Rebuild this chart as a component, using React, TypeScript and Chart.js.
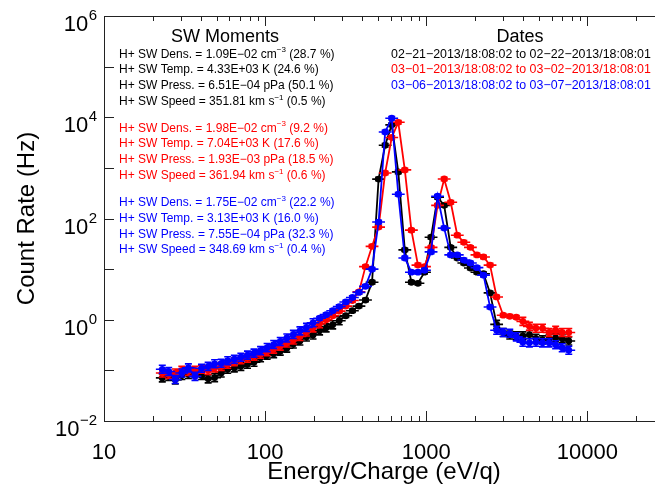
import React, { useEffect, useRef } from "react";
import { Chart, registerables } from "chart.js";
Chart.register(...registerables);

// Energy bins (eV/q)
const energies = [23.0, 25.2, 27.7, 30.4, 33.4, 36.7, 40.3, 44.3, 48.6, 53.4, 58.6, 64.4, 70.7, 77.7, 85.3, 93.7, 102.9, 113.0, 124.1, 136.3, 149.7, 164.4, 180.5, 198.3, 217.8, 239.2, 262.7, 288.4, 316.8, 347.9, 382.1, 419.6, 460.9, 506.1, 555.9, 610.5, 670.5, 736.2, 808.7, 888.1, 975.2, 1071, 1176, 1292, 1419, 1558, 1711, 1879, 2064, 2267, 2489, 2734, 3003, 3298, 3622, 3977, 4368, 4797, 5268, 5786, 6354, 6979, 7664];

// Count rates (Hz)
const countsFeb21 = [0.071, 0.076, 0.065, 0.079, 0.083, 0.089, 0.079, 0.068, 0.072, 0.089, 0.105, 0.112, 0.120, 0.132, 0.145, 0.178, 0.200, 0.214, 0.240, 0.275, 0.331, 0.380, 0.457, 0.501, 0.603, 0.692, 0.794, 0.955, 1.20, 1.51, 1.86, 2.45, 5.50, 600, 2800, 7080, 832, 24, 5.5, 5.25, 8.7, 42.7, 263, 182, 26.9, 16.6, 13.2, 10.5, 8.7, 8.1, 3.39, 0.81, 0.56, 0.50, 0.48, 0.48, 0.51, 0.43, 0.40, 0.42, 0.44, 0.42, 0.38];
const countsMar01 = [0.089, 0.083, 0.089, 0.100, 0.095, 0.100, 0.105, 0.100, 0.112, 0.120, 0.132, 0.148, 0.162, 0.174, 0.191, 0.209, 0.234, 0.263, 0.302, 0.347, 0.398, 0.468, 0.575, 0.692, 0.832, 1.00, 1.20, 1.48, 1.86, 2.40, 3.55, 11.2, 28.2, 67.6, 794, 3980, 7940, 912, 58.9, 12.0, 11.2, 26.9, 182, 603, 209, 46.8, 33.9, 26.9, 19.1, 17.4, 12.0, 2.82, 1.23, 1.17, 1.12, 0.93, 0.74, 0.68, 0.68, 0.56, 0.62, 0.56, 0.56];
const countsMar06 = [0.105, 0.095, 0.066, 0.089, 0.112, 0.076, 0.110, 0.120, 0.135, 0.138, 0.155, 0.166, 0.182, 0.200, 0.219, 0.245, 0.282, 0.324, 0.372, 0.437, 0.513, 0.603, 0.708, 0.871, 1.07, 1.26, 1.51, 1.82, 2.24, 2.75, 3.47, 4.57, 10.0, 85, 5130, 9550, 302, 16.6, 8.7, 8.7, 9.5, 21.9, 275, 64.6, 19.1, 19.1, 15.1, 13.2, 10.7, 7.6, 1.78, 0.62, 0.56, 0.54, 0.46, 0.36, 0.35, 0.36, 0.35, 0.35, 0.32, 0.28, 0.25];

const xTickValues = [10, 100, 1000, 10000];
const xTickLabels = ["10", "100", "1000", "10000"];
const yTickValues = [1e-2, 1, 1e2, 1e4, 1e6];
const yTickExponents = ["\u22122", "0", "2", "4", "6"];
const yDecades = [1e-2, 1e-1, 1, 1e1, 1e2, 1e3, 1e4, 1e5, 1e6];

const xTitle = "Energy/Charge (eV/q)";
const yTitle = "Count Rate (Hz)";
const momentsTitle = "SW Moments";
const datesTitle = "Dates";

const seriesColors = ["#000000", "#ff0000", "#0000ff"];
const momentsFeb21 = [
  "H+ SW Dens. = 1.09E\u221202 cm^{\u22123} (28.7 %)",
  "H+ SW Temp. = 4.33E+03 K (24.6 %)",
  "H+ SW Press. = 6.51E\u221204 pPa (50.1 %)",
  "H+ SW Speed = 351.81 km s^{\u22121} (0.5 %)",
];
const momentsMar01 = [
  "H+ SW Dens. = 1.98E\u221202 cm^{\u22123} (9.2 %)",
  "H+ SW Temp. = 7.04E+03 K (17.6 %)",
  "H+ SW Press. = 1.93E\u221203 pPa (18.5 %)",
  "H+ SW Speed = 361.94 km s^{\u22121} (0.6 %)",
];
const momentsMar06 = [
  "H+ SW Dens. = 1.75E\u221202 cm^{\u22123} (22.2 %)",
  "H+ SW Temp. = 3.13E+03 K (16.0 %)",
  "H+ SW Press. = 7.55E\u221204 pPa (32.3 %)",
  "H+ SW Speed = 348.69 km s^{\u22121} (0.4 %)",
];
const dateRanges = [
  "02\u221221\u22122013/18:08:02 to 02\u221222\u22122013/18:08:01",
  "03\u221201\u22122013/18:08:02 to 03\u221202\u22122013/18:08:01",
  "03\u221206\u22122013/18:08:02 to 03\u221207\u22122013/18:08:01",
];

const FONT = "'Liberation Sans', Arial, Helvetica, sans-serif";

function drawRich(ctx: CanvasRenderingContext2D, str: string, x: number, y: number, size: number) {
  const parts = str.split(/\^\{([^}]*)\}/);
  let cx = x;
  ctx.textAlign = "left";
  ctx.textBaseline = "alphabetic";
  parts.forEach((p, i) => {
    if (!p) return;
    if (i % 2 === 1) {
      ctx.font = `${Math.round(size * 0.66)}px ${FONT}`;
      ctx.fillText(p, cx, y - size * 0.42);
      cx += ctx.measureText(p).width;
    } else {
      ctx.font = `${size}px ${FONT}`;
      ctx.fillText(p, cx, y);
      cx += ctx.measureText(p).width;
    }
  });
}

const errorBarPlugin = {
  id: "errbars",
  afterDatasetDraw(chart: any, args: any) {
    const { ctx, chartArea, scales } = chart;
    const ds = chart.data.datasets[args.index];
    const xs = scales.x;
    const ys = scales.y;
    ctx.save();
    ctx.beginPath();
    ctx.rect(chartArea.left, chartArea.top, chartArea.right - chartArea.left, chartArea.bottom - chartArea.top);
    ctx.clip();
    ctx.strokeStyle = ds.borderColor;
    ctx.lineWidth = 1.6;
    ctx.beginPath();
    ds.data.forEach((p: any) => {
      const xc = xs.getPixelForValue(p.x);
      const x0 = xs.getPixelForValue(p.x / 1.096);
      const x1 = xs.getPixelForValue(p.x * 1.096);
      const y = ys.getPixelForValue(p.y);
      const f = p.y < 1 ? 1.2 : 1.08;
      const yLo = ys.getPixelForValue(p.y / f);
      const yHi = ys.getPixelForValue(p.y * f);
      ctx.moveTo(x0, y);
      ctx.lineTo(x1, y);
      ctx.moveTo(xc, yLo);
      ctx.lineTo(xc, yHi);
      ctx.moveTo(xc - 3.5, yLo);
      ctx.lineTo(xc + 3.5, yLo);
      ctx.moveTo(xc - 3.5, yHi);
      ctx.lineTo(xc + 3.5, yHi);
    });
    ctx.stroke();
    ctx.restore();
  },
};

const overlayPlugin = {
  id: "overlay",
  afterDraw(chart: any) {
    const { ctx, chartArea, scales } = chart;
    const xs = scales.x;
    const ys = scales.y;
    const { left, right, top, bottom } = chartArea;
    ctx.save();
    // frame
    ctx.strokeStyle = "#222";
    ctx.lineWidth = 1;
    ctx.beginPath();
    ctx.moveTo(right, top + 0.5);
    ctx.lineTo(left + 0.5, top + 0.5);
    ctx.lineTo(left + 0.5, bottom + 0.5);
    ctx.lineTo(right, bottom + 0.5);
    ctx.stroke();
    // x ticks
    ctx.beginPath();
    for (let d = 10; d <= 100000; d *= 10) {
      for (let k = 1; k <= 9; k++) {
        const v = d * k;
        if (v < xs.min || v > xs.max) continue;
        const px = Math.round(xs.getPixelForValue(v)) + 0.5;
        const len = k === 1 ? 10 : 5;
        ctx.moveTo(px, bottom);
        ctx.lineTo(px, bottom - len);
        ctx.moveTo(px, top);
        ctx.lineTo(px, top + len);
      }
    }
    // y ticks
    yDecades.forEach((v) => {
      const py = Math.round(ys.getPixelForValue(v)) + 0.5;
      ctx.moveTo(left, py);
      ctx.lineTo(left + 10, py);
      ctx.moveTo(right, py);
      ctx.lineTo(right - 10, py);
    });
    ctx.stroke();

    ctx.fillStyle = "#000";
    // x tick labels
    ctx.font = `22px ${FONT}`;
    ctx.textAlign = "center";
    ctx.textBaseline = "alphabetic";
    xTickValues.forEach((v, i) => {
      ctx.fillText(xTickLabels[i], xs.getPixelForValue(v), bottom + 38);
    });
    // y tick labels
    yTickValues.forEach((v, i) => {
      const py = ys.getPixelForValue(v);
      ctx.font = `15px ${FONT}`;
      const ew = ctx.measureText(yTickExponents[i]).width;
      ctx.textAlign = "right";
      ctx.fillText(yTickExponents[i], left - 7, py + 4);
      ctx.font = `22px ${FONT}`;
      ctx.fillText("10", left - 7 - ew - 0.5, py + 15);
    });
    // axis titles
    ctx.font = `24px ${FONT}`;
    ctx.textAlign = "center";
    ctx.fillText(xTitle, 384, bottom + 58);
    ctx.save();
    ctx.translate(34, (top + bottom) / 2);
    ctx.rotate(-Math.PI / 2);
    ctx.fillText(yTitle, 0, 0);
    ctx.restore();

    // annotations
    ctx.font = `18px ${FONT}`;
    ctx.textAlign = "center";
    ctx.fillText(momentsTitle, 225, 41.5);
    ctx.fillText(datesTitle, 520, 41.5);

    const groups = [momentsFeb21, momentsMar01, momentsMar06];
    const groupStarts = [57.5, 131.5, 206];
    groups.forEach((g, gi) => {
      ctx.fillStyle = seriesColors[gi];
      g.forEach((line, li) => {
        drawRich(ctx, line, 119, groupStarts[gi] + li * 15.8, 12);
      });
    });
    ctx.font = `12.4px ${FONT}`;
    ctx.textAlign = "center";
    dateRanges.forEach((d, i) => {
      ctx.fillStyle = seriesColors[i];
      ctx.fillText(d, 521, 57.5 + i * 15.8);
    });
    ctx.restore();
  },
};

export default function App() {
  const canvasRef = useRef<HTMLCanvasElement | null>(null);
  useEffect(() => {
    if (!canvasRef.current) return;
    const mk = (vals: number[], color: string, label: string, order: number) => ({
      label,
      data: energies.map((e, i) => ({ x: e, y: vals[i] })),
      borderColor: color,
      backgroundColor: color,
      borderWidth: 1.8,
      pointRadius: 3.4,
      pointBorderWidth: 0,
      pointBackgroundColor: color,
      tension: 0,
      order,
    });
    const chart = new Chart(canvasRef.current, {
      type: "line",
      data: {
        datasets: [
          mk(countsFeb21, seriesColors[0], "02-21-2013", 3),
          mk(countsMar01, seriesColors[1], "03-01-2013", 2),
          mk(countsMar06, seriesColors[2], "03-06-2013", 1),
        ],
      },
      options: {
        animation: false,
        responsive: false,
        devicePixelRatio: 1,
        layout: { padding: { left: 104, top: 16, right: 0, bottom: 64 } },
        plugins: { legend: { display: false }, tooltip: { enabled: false } },
        scales: {
          x: { type: "logarithmic", min: 10, max: 50000, display: false },
          y: { type: "logarithmic", min: 0.01, max: 1e6, display: false },
        },
      } as any,
      plugins: [errorBarPlugin, overlayPlugin],
    });
    return () => chart.destroy();
  }, []);
  return (
    <div style={{ position: "fixed", left: 0, top: 0, width: 655, height: 485, overflow: "hidden", background: "#fff" }}>
      <canvas ref={canvasRef} width={704} height={485} style={{ display: "block" }} />
    </div>
  );
}
